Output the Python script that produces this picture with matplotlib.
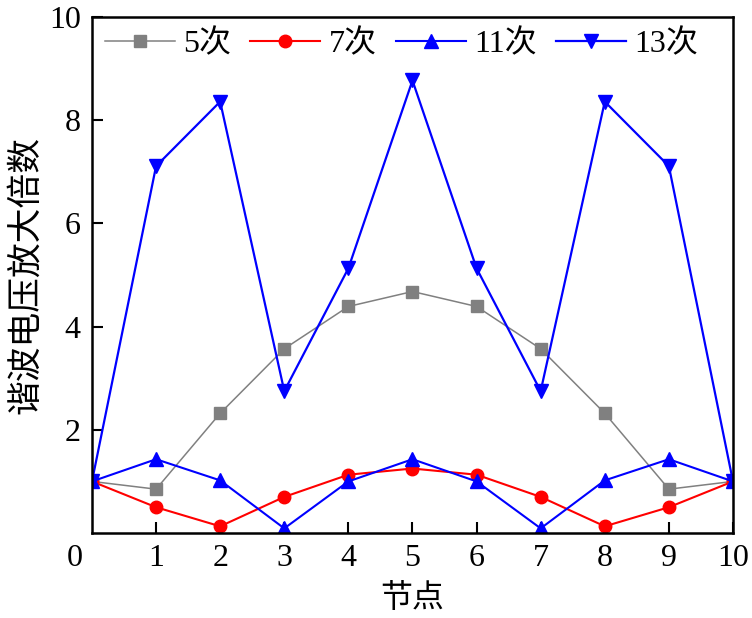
import matplotlib
matplotlib.use("Agg")
import matplotlib.pyplot as plt
from matplotlib.transforms import offset_copy, blended_transform_factory

plt.rcParams['font.family'] = ['Liberation Serif', 'Noto Sans CJK SC']

nodes = [0, 1, 2, 3, 4, 5, 6, 7, 8, 9, 10]
h5 = [1.0, 0.85, 2.32, 3.57, 4.39, 4.68, 4.39, 3.57, 2.32, 0.85, 1.0]
h7 = [1.0, 0.50, 0.13, 0.70, 1.13, 1.25, 1.13, 0.70, 0.13, 0.50, 1.0]
h11 = [1.0, 1.43, 1.02, 0.09, 1.0, 1.43, 1.0, 0.09, 1.02, 1.43, 1.0]
h13 = [1.0, 7.11, 8.36, 2.75, 5.13, 8.77, 5.13, 2.75, 8.36, 7.11, 1.0]
labels = ['5次', '7次', '11次', '13次']
xticks = [1, 2, 3, 4, 5, 6, 7, 8, 9, 10]
yticks = [2, 4, 6, 8, 10]

fig = plt.figure(figsize=(7.52, 6.18), dpi=100)
ax = fig.add_axes([0.1223, 0.1375, 0.8524, 0.835])

ax.plot(nodes, h5, color='#808080', lw=1.1, marker='s', ms=8, label=labels[0])
ax.plot(nodes, h7, color='#ff0000', lw=1.5, marker='o', ms=9, label=labels[1])
ax.plot(nodes, h11, color='#0000ff', lw=1.5, marker='^', ms=9.5, label=labels[2])
ax.plot(nodes, h13, color='#0000ff', lw=1.6, marker='v', ms=9.5, label=labels[3])

ax.set_xlim(0, 10)
ax.set_ylim(0, 10)
ax.set_xticks(xticks)
ax.set_yticks(yticks)
ax.tick_params(direction='in', length=8, width=1.5, labelsize=23, pad=8)
for s in ax.spines.values():
    s.set_linewidth(1.8)

# lone "0" label at the lower-left corner
tr = blended_transform_factory(fig.transFigure, ax.transAxes)
tr = offset_copy(tr, fig=fig, y=-8, units='points')
ax.text(75 / 752, 0, '0', transform=tr, ha='center', va='top', fontsize=23)

ax.set_xlabel('节点', fontsize=23, labelpad=8)
ax.set_ylabel('谐波电压放大倍数', fontsize=25, labelpad=4)

leg = ax.legend(loc='upper left', ncol=4, frameon=False, fontsize=23,
                handlelength=2.2, handletextpad=0.25, columnspacing=0.6,
                borderaxespad=0.0, bbox_to_anchor=(0.0, 1.0))

fig.savefig('out.png', dpi=100)
